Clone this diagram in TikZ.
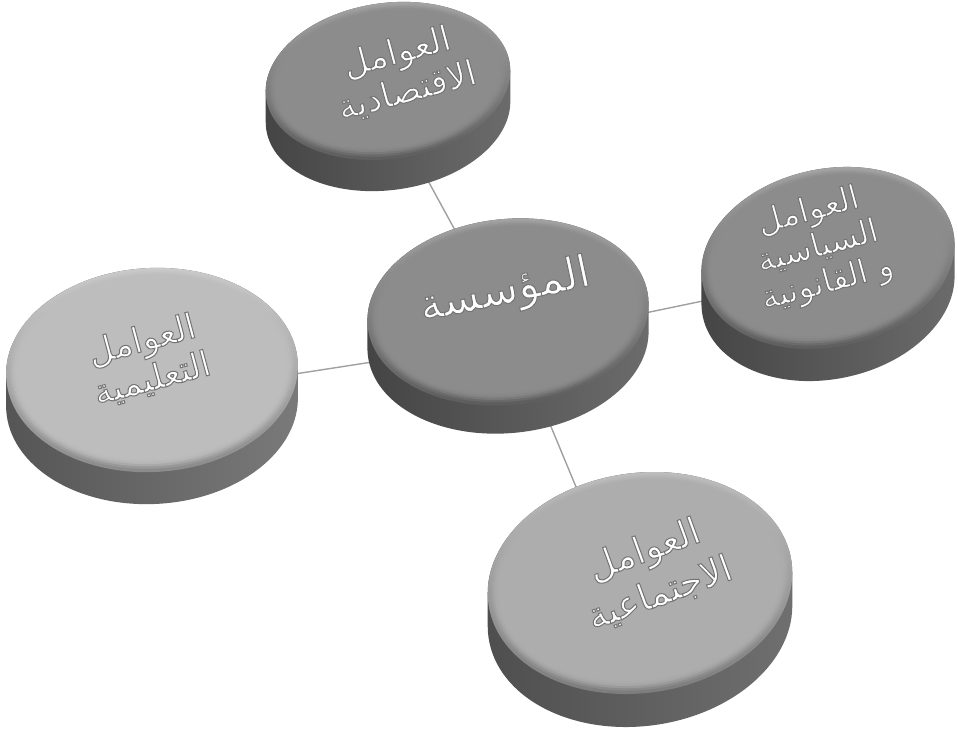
\documentclass[tikz,border=0pt]{standalone}
\usepackage{fontspec}
\newfontfamily\arabicfont[Script=Arabic]{DejaVu Sans}
\TeXXeTstate=1
% colour sets
\definecolor{dkface}{HTML}{8C8C8C}
\definecolor{dkrimL}{HTML}{A2A2A2}
\definecolor{dkrimD}{HTML}{5A5A5A}
\definecolor{dksideD}{HTML}{444444}
\definecolor{dksideL}{HTML}{6C6C6C}
\definecolor{mdface}{HTML}{ADADAD}
\definecolor{mdrimL}{HTML}{BDBDBD}
\definecolor{mdrimD}{HTML}{7A7A7A}
\definecolor{mdsideD}{HTML}{4E4E4E}
\definecolor{mdsideL}{HTML}{707070}
\definecolor{ltface}{HTML}{BDBDBD}
\definecolor{ltrimL}{HTML}{CACACA}
\definecolor{ltrimD}{HTML}{8A8A8A}
\definecolor{ltsideD}{HTML}{555555}
\definecolor{ltsideL}{HTML}{7A7A7A}
\definecolor{linkgray}{HTML}{A0A0A0}
% #1 cx, #2 cy, #3 rx, #4 ry, #5 tilt, #6 thickness, #7 colour prefix
\newcommand\mydisk[7]{%
  \begin{scope}[shift={(#1,#2)},rotate=#5]
    \shade[left color=#7sideD,right color=#7sideL]
      \foreach \k in {0,...,#6}{({-\k*sin(#5)},{\k*cos(#5)}) ellipse[x radius=#3,y radius=#4]};
    \shade[top color=#7rimL,bottom color=#7rimD] (0,0) ellipse[x radius=#3,y radius=#4];
    \foreach \s/\o in {3/0.25,5/0.45,7/0.65,9/0.85,11/1}{
      \fill[#7face,fill opacity=\o] (0,{-0.15*\s}) ellipse[x radius={#3-\s},y radius={#4-\s}];
    }
  \end{scope}}
% embossed white text: white fill, grey outline
\newcommand\emb[1]{\special{pdf:literal direct 0.45 G 1.0 w 2 Tr}#1\special{pdf:literal direct 0 Tr}}
\tikzset{
  lbl/.style={font=\arabicfont\fontsize{35}{40}\selectfont,text=white,align=center,inner sep=0pt},
  link/.style={draw=linkgray,line width=1.4pt}
}
\begin{document}
\begin{tikzpicture}[x=1pt,y=-1pt]
  \useasboundingbox (0,0) rectangle (958,734);
  \fill[white] (0,0) rectangle (958,734);
  % anchors
  \coordinate (hub) at (515,340);
  \coordinate (econ) at (373,80);
  \coordinate (pol) at (828,275);
  \coordinate (edu) at (152,396);
  \coordinate (soc) at (618,588);
  \draw[link] (hub) -- (econ);
  \draw[link] (hub) -- (pol);
  \draw[link] (hub) -- (edu);
  \draw[link] (hub) -- (soc);
  % disks
  \mydisk{388}{81}{123}{78}{8}{31}{dk}
  \mydisk{828}{258}{128}{89}{12}{32}{dk}
  \mydisk{152}{370}{146}{102}{3}{32}{lt}
  \mydisk{508}{312}{141}{93}{6}{28}{dk}
  \mydisk{640}{583}{153}{110}{8}{33}{md}
  % labels
  \node[lbl,rotate=15] (econT) at (402,72) {\emb{\beginR العوامل\endR}\\\emb{\beginR الاقتصادية\endR}};
  \node[lbl,rotate=15,font=\arabicfont\fontsize{33}{37}\selectfont] (polT) at (818,248) {\emb{\beginR العوامل\endR}\\\emb{\beginR السياسية\endR}\\\emb{\beginR و القانونية\endR}};
  \node[lbl,rotate=15] (eduT) at (147,360) {\emb{\beginR العوامل\endR}\\\emb{\beginR التعليمية\endR}};
  \node[lbl,rotate=12,font=\arabicfont\fontsize{44}{48}\selectfont] (orgT) at (505,292) {\emb{\beginR المؤسسة\endR}};
  \node[lbl,rotate=20,font=\arabicfont\fontsize{37}{46}\selectfont] (socT) at (652,572) {\emb{\beginR العوامل\endR}\\\emb{\beginR الاجتماعية\endR}};
\end{tikzpicture}
\end{document}
